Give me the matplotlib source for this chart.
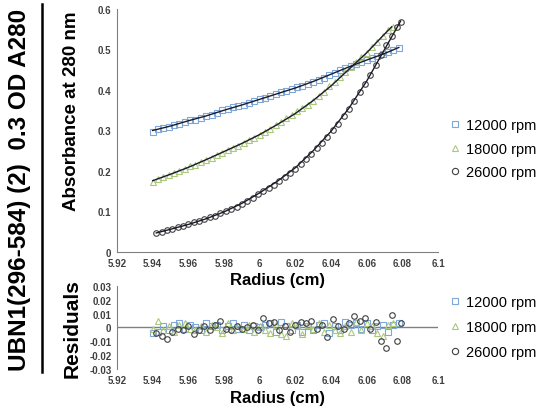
import matplotlib.pyplot as plt
from matplotlib.lines import Line2D

plt.rcParams["font.family"] = ["Liberation Sans", "DejaVu Sans"]

# observed data
r_12k = [5.940, 5.943, 5.946, 5.949, 5.952, 5.955, 5.958, 5.961, 5.964, 5.967, 5.970, 5.973,
         5.976, 5.979, 5.982, 5.985, 5.988, 5.991, 5.994, 5.997, 6.000, 6.003, 6.006, 6.009,
         6.012, 6.015, 6.018, 6.021, 6.024, 6.027, 6.030, 6.033, 6.036, 6.039, 6.042, 6.045,
         6.048, 6.051, 6.054, 6.057, 6.060, 6.063, 6.066, 6.069, 6.072, 6.075, 6.078]
a_12k = [0.296, 0.303, 0.306, 0.309, 0.313, 0.316, 0.321, 0.325, 0.327, 0.332, 0.336, 0.339,
         0.344, 0.350, 0.354, 0.357, 0.360, 0.364, 0.368, 0.373, 0.377, 0.381, 0.385, 0.390,
         0.395, 0.398, 0.403, 0.408, 0.411, 0.416, 0.420, 0.425, 0.430, 0.437, 0.443, 0.449,
         0.455, 0.459, 0.465, 0.470, 0.474, 0.478, 0.483, 0.488, 0.494, 0.499, 0.503]

r_18k = [5.940, 5.943, 5.946, 5.949, 5.952, 5.955, 5.958, 5.961, 5.964, 5.967, 5.970, 5.973,
         5.976, 5.979, 5.982, 5.985, 5.988, 5.991, 5.994, 5.997, 6.000, 6.003, 6.006, 6.009,
         6.012, 6.015, 6.018, 6.021, 6.024, 6.027, 6.030, 6.033, 6.036, 6.039, 6.042, 6.045,
         6.048, 6.051, 6.054, 6.057, 6.060, 6.063, 6.066, 6.069, 6.072, 6.075]
a_18k = [0.174, 0.180, 0.185, 0.190, 0.194, 0.200, 0.206, 0.212, 0.216, 0.223, 0.227, 0.233,
         0.239, 0.245, 0.251, 0.257, 0.262, 0.269, 0.276, 0.282, 0.290, 0.296, 0.304, 0.313,
         0.320, 0.330, 0.338, 0.347, 0.356, 0.364, 0.374, 0.386, 0.396, 0.409, 0.420, 0.432,
         0.445, 0.456, 0.468, 0.481, 0.492, 0.505, 0.519, 0.533, 0.547, 0.555]

r_26k = [5.942, 5.945, 5.948, 5.951, 5.954, 5.957, 5.960, 5.963, 5.966, 5.969, 5.972, 5.975,
         5.978, 5.981, 5.984, 5.987, 5.990, 5.993, 5.996, 5.999, 6.002, 6.005, 6.008, 6.011,
         6.014, 6.017, 6.020, 6.023, 6.026, 6.029, 6.032, 6.035, 6.038, 6.041, 6.044, 6.047,
         6.050, 6.053, 6.056, 6.059, 6.062, 6.065, 6.068, 6.071, 6.074, 6.077, 6.079]
a_26k = [0.047, 0.050, 0.054, 0.057, 0.061, 0.065, 0.069, 0.073, 0.077, 0.081, 0.086, 0.090,
         0.096, 0.101, 0.107, 0.112, 0.119, 0.126, 0.134, 0.142, 0.150, 0.158, 0.166, 0.176,
         0.186, 0.196, 0.206, 0.218, 0.230, 0.243, 0.257, 0.270, 0.285, 0.300, 0.317, 0.335,
         0.353, 0.373, 0.394, 0.415, 0.438, 0.462, 0.487, 0.512, 0.533, 0.555, 0.569]

# fitted curves
fit_r_12k = [5.94, 5.95, 5.96, 5.97, 5.98, 5.99, 6.00, 6.01, 6.02, 6.03, 6.04, 6.05, 6.06, 6.07, 6.078]
fit_a_12k = [0.300, 0.311, 0.324, 0.336, 0.350, 0.363, 0.377, 0.391, 0.405, 0.421, 0.439, 0.457, 0.474, 0.490, 0.505]
fit_r_18k = [5.94, 5.95, 5.96, 5.97, 5.98, 5.99, 6.00, 6.01, 6.02, 6.03, 6.04, 6.05, 6.06, 6.07, 6.074]
fit_a_18k = [0.176, 0.192, 0.209, 0.228, 0.248, 0.268, 0.290, 0.315, 0.342, 0.374, 0.410, 0.451, 0.492, 0.538, 0.556]
fit_r_26k = [5.942, 5.95, 5.96, 5.97, 5.98, 5.99, 6.00, 6.01, 6.02, 6.03, 6.04, 6.05, 6.06, 6.07, 6.079]
fit_a_26k = [0.047, 0.056, 0.068, 0.082, 0.099, 0.120, 0.146, 0.175, 0.208, 0.250, 0.298, 0.355, 0.422, 0.500, 0.570]

# residuals
res_12k = [-0.004, -0.003, 0.001, -0.002, 0.002, 0.003, -0.001, 0.002, 0.000, -0.002, 0.003, 0.001,
           0.002, -0.002, 0.001, 0.003, -0.001, 0.002, -0.002, 0.001, 0.000, 0.002, 0.003, -0.003,
           0.004, 0.001, -0.002, 0.002, -0.003, 0.001, -0.002, 0.002, 0.003, -0.004, 0.001, -0.002,
           0.004, 0.002, 0.003, -0.001, 0.003, -0.002, 0.001, 0.002, -0.003, 0.002, 0.003]
res_18k = [-0.001, 0.005, -0.002, 0.001, -0.003, 0.002, 0.003, -0.001, -0.002, 0.001, -0.003, 0.002,
           0.000, -0.004, 0.003, -0.002, 0.001, -0.001, 0.002, -0.003, 0.001, -0.002, -0.004, 0.002,
           -0.005, -0.006, 0.003, 0.001, -0.005, 0.002, -0.001, 0.003, -0.003, 0.002, -0.002, -0.004,
           0.001, -0.003, 0.004, -0.002, 0.003, 0.001, -0.004, -0.006, 0.002, 0.003]
res_26k = [-0.004, -0.006, -0.008, -0.003, -0.001, -0.002, 0.001, -0.005, -0.002, 0.001, -0.002, 0.002,
           0.005, -0.001, -0.002, 0.001, -0.001, 0.000, 0.002, -0.002, 0.007, 0.003, 0.004, -0.002,
           0.001, -0.003, 0.002, 0.004, 0.003, 0.005, -0.001, 0.002, -0.007, 0.006, 0.001, -0.001,
           0.003, 0.008, 0.005, 0.007, -0.001, 0.004, -0.010, -0.015, 0.009, -0.010, 0.003]

labels = ["12000 rpm", "18000 rpm", "26000 rpm"]
colors = ["#7fa7da", "#aac87c", "#404040"]
markers = ["s", "^", "o"]

x_ticks = [5.92, 5.94, 5.96, 5.98, 6.0, 6.02, 6.04, 6.06, 6.08, 6.1]
x_ticklabels = ["5.92", "5.94", "5.96", "5.98", "6", "6.02", "6.04", "6.06", "6.08", "6.1"]

fig = plt.figure(figsize=(5.37, 4.10), dpi=100)
ax = fig.add_axes([0.2179, 0.383, 0.5978, 0.5926])
ax_res = fig.add_axes([0.2179, 0.0976, 0.5978, 0.2024])
ax_res.patch.set_visible(False)

obs = [(r_12k, a_12k), (r_18k, a_18k), (r_26k, a_26k)]
fits = [(fit_r_12k, fit_a_12k), (fit_r_18k, fit_a_18k), (fit_r_26k, fit_a_26k)]
res = [(r_12k, res_12k), (r_18k, res_18k), (r_26k, res_26k)]

for (x, y), c, m in zip(obs, colors, markers):
    ax.plot(x, y, linestyle="none", marker=m, markersize=4, markerfacecolor="none",
            markeredgecolor=c, markeredgewidth=0.8)
for (x, y) in fits:
    ax.plot(x, y, color="#1a1a2a", linewidth=1.0)

for (x, y), c, m in zip(res, colors, markers):
    ax_res.plot(x, y, linestyle="none", marker=m, markersize=4, markerfacecolor="none",
                markeredgecolor=c, markeredgewidth=0.8)
ax_res.axhline(0, color="#808080", linewidth=1.0, zorder=0)

tick_font = dict(fontsize=7, fontweight="bold", color="#404040")

ax.set_xlim(5.92, 6.1)
ax.set_ylim(0, 0.6)
ax.set_xticks(x_ticks)
ax.set_xticklabels(x_ticklabels, **tick_font)
ax.set_yticks([0, 0.1, 0.2, 0.3, 0.4, 0.5, 0.6])
ax.set_yticklabels(["0", "0.1", "0.2", "0.3", "0.4", "0.5", "0.6"], **tick_font)
ax.set_xlabel("Radius (cm)", fontsize=12, fontweight="bold", labelpad=3)
ax.set_ylabel("Absorbance at 280 nm", fontsize=13.5, fontweight="bold")
ax.yaxis.set_label_coords(-0.115, 0.582)

ax_res.set_xlim(5.92, 6.1)
ax_res.set_ylim(-0.03, 0.03)
ax_res.set_xticks(x_ticks)
ax_res.set_xticklabels(x_ticklabels, **tick_font)
ax_res.set_yticks([-0.03, -0.02, -0.01, 0, 0.01, 0.02, 0.03])
ax_res.set_yticklabels(["-0.03", "-0.02", "-0.01", "0", "0.01", "0.02", "0.03"], **tick_font)
ax_res.set_xlabel("Radius (cm)", fontsize=12, fontweight="bold", labelpad=4)
ax_res.set_ylabel("Residuals", fontsize=15, fontweight="bold")
ax_res.yaxis.set_label_coords(-0.109, 0.5)

for a in (ax, ax_res):
    a.spines["top"].set_visible(False)
    a.spines["right"].set_visible(False)
    a.spines["left"].set_color("#808080")
    a.spines["bottom"].set_color("#808080")
    a.tick_params(length=0, pad=4)
ax_res.spines["bottom"].set_visible(False)

handles = [Line2D([], [], linestyle="none", marker=m, markersize=4.5, markerfacecolor="none",
                  markeredgecolor=c, markeredgewidth=0.8) for c, m in zip(colors, markers)]
fig.legend(handles, labels, loc="center left", bbox_to_anchor=(0.823, 0.635), frameon=False,
           fontsize=10.5, handlelength=0.8, handletextpad=0.36, labelspacing=0.64, borderpad=0)
fig.legend(handles, labels, loc="center left", bbox_to_anchor=(0.823, 0.2), frameon=False,
           fontsize=10.5, handlelength=0.8, handletextpad=0.36, labelspacing=0.78, borderpad=0)

fig.text(0.037, 0.537, "UBN1(296-584) (2)  0.3 OD A280", rotation=90, ha="center", va="center",
         fontsize=17.5, fontweight="bold")
fig.add_artist(Line2D([0.078, 0.078], [0.09, 0.988], color="black", linewidth=1.8))

fig.savefig("out.png", dpi=100)
